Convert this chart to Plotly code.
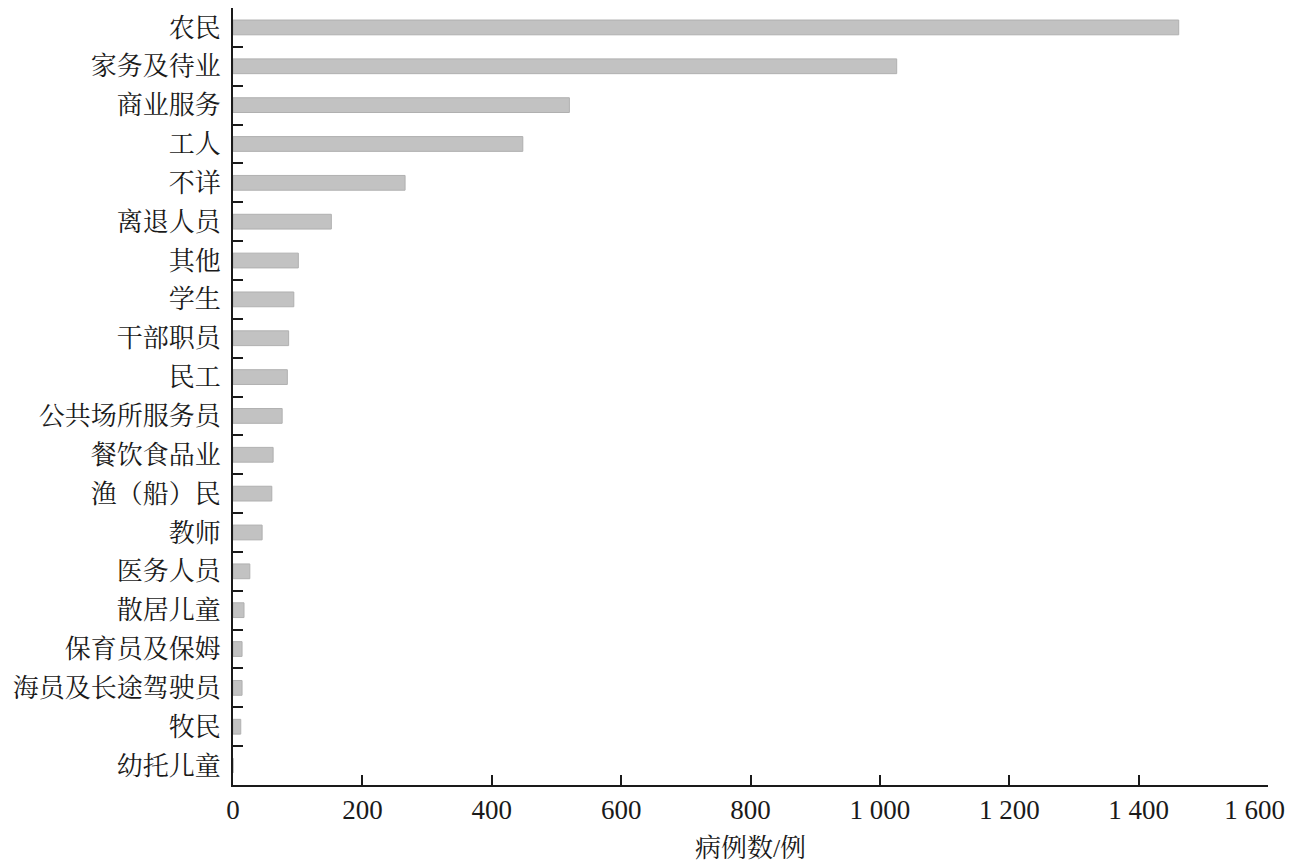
import plotly.graph_objects as go

categories = ["农民", "家务及待业", "商业服务", "工人", "不详", "离退人员", "其他", "学生",
              "干部职员", "民工", "公共场所服务员", "餐饮食品业", "渔（船）民", "教师",
              "医务人员", "散居儿童", "保育员及保姆", "海员及长途驾驶员", "牧民", "幼托儿童"]
cases = [1462, 1026, 520, 448, 266, 152, 101, 94, 86, 84, 76, 62, 60, 45, 26, 17, 14, 14, 12, 0]

x_tickvals = [0, 200, 400, 600, 800, 1000, 1200, 1400, 1600]
x_ticktext = ["0", "200", "400", "600", "800", "1 000", "1 200", "1 400",
              "1 600\u00a0\u00a0\u00a0\u00a0"]
x_title = "病例数/例"

FONT = "Liberation Serif, Noto Serif CJK SC, Noto Sans CJK SC, serif"

fig = go.Figure(go.Bar(
    x=cases, y=categories, orientation="h", width=0.38,
    marker=dict(color="#c2c2c2", line=dict(color="#b0b0b0", width=1)),
))

fig.update_layout(
    width=1295, height=862,
    margin=dict(l=225, r=35, t=0, b=85),
    paper_bgcolor="white", plot_bgcolor="white",
    font=dict(family=FONT, color="#1a1a1a"),
    showlegend=False, bargap=0.6,
)
fig.update_xaxes(
    range=[0, 1600], tickvals=x_tickvals, ticktext=x_ticktext,
    ticks="inside", ticklen=10, tickwidth=1.5, tickcolor="#1a1a1a",
    showline=True, linecolor="#1a1a1a", linewidth=2, showgrid=False, zeroline=False,
    tickfont=dict(size=27, family=FONT), ticklabeloverflow="allow",
    title=dict(text=x_title, font=dict(size=26, family=FONT), standoff=14),
    automargin=False,
)
fig.update_yaxes(
    autorange="reversed", tickson="boundaries",
    ticks="inside", ticklen=10, tickwidth=1.5, tickcolor="#1a1a1a",
    showline=True, linecolor="#1a1a1a", linewidth=2, showgrid=False,
    tickfont=dict(size=26, family=FONT), ticklabelstandoff=5,
    automargin=False,
)

fig.write_html("out.html")
